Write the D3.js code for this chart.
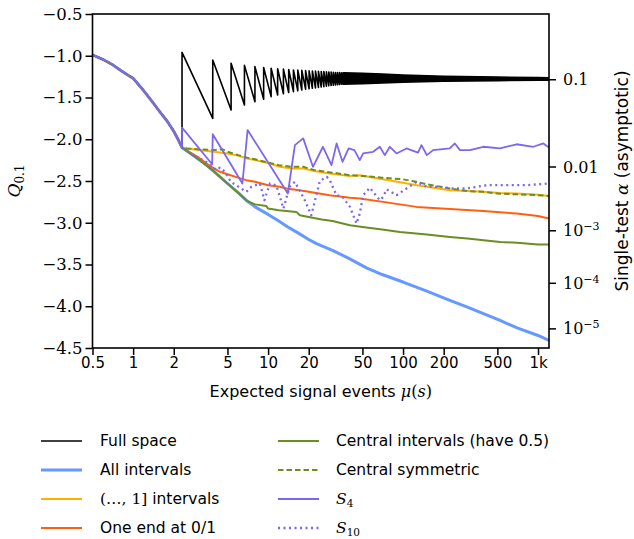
<!DOCTYPE html>
<html>
<head>
<meta charset="utf-8">
<script src="https://cdn.jsdelivr.net/npm/d3@7"></script>
<style>
  body { margin: 0; background: #fff; }
  .sans { font-family: "DejaVu Sans", sans-serif; }
  .serif { font-family: "DejaVu Serif", serif; }
</style>
</head>
<body>
<div id="chart"></div>
<script>
// all methods share this part (mu below ln 10)
const commonMu = [0.5, 0.6, 0.7, 0.8, 0.9, 1.0, 1.2, 1.4, 1.6, 1.8, 2.0, 2.15, 2.303];
const commonQ = [-0.99, -1.045, -1.105, -1.17, -1.225, -1.27, -1.42, -1.56, -1.685, -1.79, -1.905, -2.0, -2.10];

// full space: sawtooth, jumps where the Poisson quantile steps
const fullJumpMu = [2.303, 3.89, 5.32, 6.68, 7.99, 9.27, 10.53, 11.77, 12.99, 14.21, 15.41, 16.6, 17.78, 18.96,
  20.13, 21.29, 22.45, 23.61, 24.76, 25.9, 27.05, 28.18, 29.32, 30.45, 31.58, 32.71, 33.84, 34.96, 36.08];
const fullHighQ = [-0.96, -1.05, -1.09, -1.115, -1.13, -1.14, -1.15, -1.155, -1.16, -1.165, -1.17, -1.172, -1.175, -1.178,
  -1.18, -1.182, -1.184, -1.186, -1.188, -1.19, -1.192, -1.194, -1.196, -1.198, -1.2, -1.201, -1.202, -1.203, -1.204];
const fullLowQ = [-2.10, -1.75, -1.65, -1.59, -1.55, -1.52, -1.49, -1.47, -1.455, -1.44, -1.43, -1.42, -1.41, -1.4,
  -1.395, -1.39, -1.385, -1.38, -1.375, -1.37, -1.365, -1.36, -1.357, -1.354, -1.351, -1.348, -1.345, -1.342, -1.34];
// beyond that the teeth merge into a solid band
const bandMu = [36.08, 50, 70, 100, 200, 500, 1000, 1206];
const bandUpperQ = [-1.204, -1.21, -1.22, -1.23, -1.245, -1.255, -1.262, -1.264];
const bandLowerQ = [-1.34, -1.335, -1.325, -1.318, -1.306, -1.298, -1.293, -1.292];

const allIntervals = [[2.303, -2.10], [2.6, -2.16], [3, -2.23], [3.5, -2.31], [4, -2.39], [5, -2.53], [6, -2.64], [7, -2.74],
  [8, -2.81], [10, -2.90], [12, -2.98], [14, -3.05], [17, -3.13], [20, -3.20], [22.8, -3.25], [30, -3.33], [40, -3.43],
  [53.6, -3.54], [70, -3.62], [100, -3.71], [150, -3.82], [222, -3.93], [300, -4.01], [523, -4.17], [700, -4.26],
  [1000, -4.35], [1206, -4.41]];
const upToOne = [[2.303, -2.10], [2.5, -2.11], [3.3, -2.135], [4, -2.15], [5, -2.17], [5.8, -2.19], [7, -2.23], [8, -2.25],
  [10.3, -2.29], [12.2, -2.33], [15, -2.35], [18.2, -2.35], [22, -2.38], [28.6, -2.41], [40.4, -2.44], [47.8, -2.43],
  [71, -2.48], [100, -2.52], [126, -2.55], [150, -2.57], [222, -2.61], [300, -2.62], [393, -2.63], [523, -2.645],
  [700, -2.65], [1000, -2.665], [1206, -2.68]];
const oneEnd = [[2.303, -2.10], [2.6, -2.15], [3, -2.21], [3.5, -2.29], [3.8, -2.33], [4.4, -2.39], [5, -2.42], [6, -2.46],
  [6.9, -2.49], [8, -2.51], [10, -2.55], [12.2, -2.57], [13.7, -2.59], [17, -2.61], [20, -2.63], [28.6, -2.67],
  [40.4, -2.70], [47.8, -2.71], [71.3, -2.75], [126, -2.81], [222, -2.835], [393, -2.86], [695, -2.89], [1000, -2.92],
  [1206, -2.95]];
const central = [[2.303, -2.10], [3, -2.23], [4, -2.39], [5, -2.53], [6, -2.64], [7, -2.74], [8, -2.78], [9.7, -2.80],
  [10, -2.83], [12, -2.85], [16.2, -2.87], [17.2, -2.91], [20, -2.93], [25, -2.96], [30, -2.98], [40.4, -3.03],
  [50, -3.05], [70, -3.08], [94.7, -3.11], [150, -3.14], [222, -3.17], [300, -3.19], [523, -3.23], [700, -3.24],
  [1000, -3.26], [1206, -3.26]];
const centralSym = [[2.303, -2.10], [2.5, -2.11], [3, -2.12], [4, -2.13], [4.6, -2.12], [5, -2.15], [6, -2.19], [7, -2.22],
  [8, -2.24], [10, -2.28], [12, -2.31], [15, -2.33], [18.2, -2.33], [22, -2.37], [30, -2.40], [40, -2.43], [50, -2.44],
  [70, -2.46], [100, -2.48], [126, -2.51], [150, -2.54], [222, -2.59], [300, -2.62], [393, -2.63], [500, -2.65],
  [700, -2.66], [1000, -2.67], [1206, -2.68]];
const s4 = [[2.303, -2.10], [2.303, -1.86], [3.85, -2.30], [3.89, -1.94], [6.45, -2.53], [7.05, -1.89], [14.0, -2.65],
  [15.8, -2.07], [18.2, -1.99], [21.5, -2.33], [25.5, -2.09], [29.5, -2.31], [32.2, -2.05], [35.6, -2.27], [39.5, -2.11],
  [43.6, -2.13], [47.8, -2.25], [50.6, -2.17], [60, -2.15], [67.3, -2.09], [73.3, -2.19], [79.8, -2.09], [89.5, -2.17],
  [106, -2.11], [129, -2.16], [137, -2.07], [150, -2.19], [167, -2.13], [222, -2.11], [242, -2.05], [264, -2.13],
  [313, -2.13], [393, -2.09], [523, -2.11], [695, -2.06], [923, -2.09], [1096, -2.05], [1206, -2.10]];
const s10 = [[2.303, -2.10], [2.35, -2.11], [2.77, -2.19], [3.3, -2.25], [3.7, -2.30], [4.14, -2.37], [4.4, -2.34],
  [4.8, -2.39], [5.3, -2.51], [5.8, -2.55], [6.9, -2.63], [7.5, -2.57], [8.7, -2.53], [9.4, -2.73], [10.3, -2.53],
  [11.5, -2.55], [13.0, -2.83], [14.4, -2.57], [15.8, -2.51], [17.6, -2.65], [18.7, -2.73], [20.9, -2.91], [24.2, -2.50],
  [27.2, -2.45], [28.7, -2.49], [32.1, -2.67], [35.6, -2.69], [40.4, -2.81], [45.2, -3.01], [47.8, -2.89], [50.6, -2.67],
  [56.7, -2.58], [67.3, -2.73], [71.3, -2.69], [75.5, -2.60], [89.5, -2.67], [106, -2.59], [126, -2.51], [150, -2.57],
  [187, -2.57], [235, -2.59], [296, -2.59], [417, -2.55], [586, -2.55], [824, -2.55], [1206, -2.53]];

const xTicks = [0.5, 1, 2, 5, 10, 20, 50, 100, 200, 500, 1000];
const xTickLabels = ["0.5", "1", "2", "5", "10", "20", "50", "100", "200", "500", "1k"];
const yTicks = [-0.5, -1.0, -1.5, -2.0, -2.5, -3.0, -3.5, -4.0, -4.5];
const alphaTicks = [0.1, 0.01, 1e-3, 1e-4, 1e-5];
const alphaBase = ["0.1", "0.01", "10", "10", "10"];
const alphaExp = ["", "", "−3", "−4", "−5"];

const width = 634, height = 539;
const plotLeft = 92.5, plotRight = 549, plotTop = 14, plotBottom = 348;

// inverse normal cdf (Acklam), maps the alpha ticks onto the Q axis
function probit(p) {
  const a = [-3.969683028665376e+01, 2.209460984245205e+02, -2.759285104469687e+02, 1.383577518672690e+02, -3.066479806614716e+01, 2.506628277459239e+00];
  const b = [-5.447609879822406e+01, 1.615858368580409e+02, -1.556989798598866e+02, 6.680131188771972e+01, -1.328068155288572e+01];
  const c = [-7.784894002430293e-03, -3.223964580411365e-01, -2.400758277161838e+00, -2.549732539343734e+00, 4.374664141464968e+00, 2.938163982698783e+00];
  const d = [7.784695709041462e-03, 3.224671290700398e-01, 2.445134137142996e+00, 3.754408661907416e+00];
  if (p < 0.02425) {
    const q = Math.sqrt(-2 * Math.log(p));
    return (((((c[0] * q + c[1]) * q + c[2]) * q + c[3]) * q + c[4]) * q + c[5]) / ((((d[0] * q + d[1]) * q + d[2]) * q + d[3]) * q + 1);
  }
  const q = p - 0.5, r = q * q;
  return (((((a[0] * r + a[1]) * r + a[2]) * r + a[3]) * r + a[4]) * r + a[5]) * q / (((((b[0] * r + b[1]) * r + b[2]) * r + b[3]) * r + b[4]) * r + 1);
}

const x = d3.scaleLog().domain([0.5, 1206]).range([plotLeft, plotRight]);
const y = d3.scaleLinear().domain([-4.5, -0.5]).range([plotBottom, plotTop]);

const svg = d3.select("#chart").append("svg")
  .attr("width", width).attr("height", height)
  .style("background", "#fff");

svg.append("defs").append("clipPath").attr("id", "plot-clip")
  .append("rect").attr("x", plotLeft).attr("y", plotTop)
  .attr("width", plotRight - plotLeft).attr("height", plotBottom - plotTop);

const commonPts = commonMu.map((m, i) => [m, commonQ[i]]);
const line = d3.line().x(d => x(d[0])).y(d => y(d[1]));

// full space path: common curve, then the teeth
const fullPts = commonPts.slice();
fullJumpMu.forEach((m, i) => {
  fullPts.push([m, fullLowQ[i]]);
  fullPts.push([m, fullHighQ[i]]);
});

const series = [
  { label: "Full space", pts: fullPts, color: "#000", w: 1.6, dash: null },
  { label: "All intervals", pts: commonPts.concat(allIntervals), color: "#6699ff", w: 3, dash: null },
  { label: "(…, 1] intervals", pts: commonPts.concat(upToOne), color: "#ffb000", w: 2, dash: null },
  { label: "One end at 0/1", pts: commonPts.concat(oneEnd), color: "#ff6010", w: 2, dash: null },
  { label: "Central intervals (have 0.5)", pts: commonPts.concat(central), color: "#6b8e23", w: 2, dash: null },
  { label: "Central symmetric", pts: commonPts.concat(centralSym), color: "#6b8e23", w: 2, dash: "5.5,3" },
  { label: "S4", pts: commonPts.concat(s4), color: "#7b68ee", w: 1.8, dash: null },
  { label: "S10", pts: commonPts.concat(s10), color: "#7b68ee", w: 2.3, dash: "2,3.5" }
];

const plot = svg.append("g").attr("clip-path", "url(#plot-clip)");

// dense part of the full-space sawtooth
plot.append("path")
  .datum(bandMu.map((m, i) => [m, bandUpperQ[i], bandLowerQ[i]]))
  .attr("fill", "#000")
  .attr("stroke", "#000")
  .attr("stroke-width", 1.6)
  .attr("d", d3.area().x(d => x(d[0])).y0(d => y(d[2])).y1(d => y(d[1])));

plot.selectAll("path.series")
  .data(series)
  .enter()
  .append("path")
  .attr("class", "series")
  .attr("fill", "none")
  .attr("stroke", d => d.color)
  .attr("stroke-width", d => d.w)
  .attr("stroke-dasharray", d => d.dash)
  .attr("stroke-linejoin", "round")
  .attr("d", d => line(d.pts));

// axes
const fmt = d3.format(".1f");
const yAxis = svg.append("g")
  .attr("transform", `translate(${plotLeft},0)`)
  .call(d3.axisLeft(y).tickValues(yTicks).tickFormat(fmt).tickSize(7).tickPadding(3));
yAxis.selectAll("text").attr("class", "serif").style("font-size", "16.5px").attr("fill", "#000");

const xAxis = svg.append("g")
  .attr("transform", `translate(0,${plotBottom})`)
  .call(d3.axisBottom(x).tickValues(xTicks).tickFormat((d, i) => xTickLabels[i]).tickSize(7).tickPadding(2));
xAxis.selectAll("text").attr("class", "sans").style("font-size", "15px").attr("fill", "#000");

const rAxis = svg.append("g")
  .attr("transform", `translate(${plotRight},0)`)
  .call(d3.axisRight(y).tickValues(alphaTicks.map(probit)).tickFormat("").tickSize(7));

[yAxis, xAxis, rAxis].forEach(g => {
  g.select(".domain").remove();
  g.selectAll(".tick line").attr("stroke", "#000").attr("stroke-width", 1.5);
});

rAxis.selectAll(".tick").each(function(d, i) {
  const t = d3.select(this).append("text")
    .attr("class", "serif")
    .attr("x", 14).attr("dy", "0.35em")
    .attr("fill", "#000")
    .style("font-size", "16px")
    .text(alphaBase[i]);
  if (alphaExp[i]) {
    t.append("tspan").attr("dy", "-0.55em").style("font-size", "11px").text(alphaExp[i]);
  }
});

svg.append("rect")
  .attr("x", plotLeft).attr("y", plotTop)
  .attr("width", plotRight - plotLeft).attr("height", plotBottom - plotTop)
  .attr("fill", "none").attr("stroke", "#000").attr("stroke-width", 1.6);

// axis labels
const xl = svg.append("text").attr("class", "sans")
  .attr("x", (plotLeft + plotRight) / 2).attr("y", 397)
  .attr("text-anchor", "middle").style("font-size", "16px");
xl.append("tspan").text("Expected signal events ");
xl.append("tspan").attr("class", "serif").style("font-style", "italic").text("μ");
xl.append("tspan").attr("class", "serif").text("(");
xl.append("tspan").attr("class", "serif").style("font-style", "italic").text("s");
xl.append("tspan").attr("class", "serif").text(")");

const yl = svg.append("text").attr("class", "serif")
  .attr("transform", `translate(20,${(plotTop + plotBottom) / 2}) rotate(-90)`)
  .attr("text-anchor", "middle").style("font-size", "17px");
yl.append("tspan").style("font-style", "italic").text("Q");
yl.append("tspan").attr("dy", "0.3em").style("font-size", "12px").text("0.1");

const rl = svg.append("text").attr("class", "sans")
  .attr("transform", `translate(628,${(plotTop + plotBottom) / 2}) rotate(-90)`)
  .attr("text-anchor", "middle").style("font-size", "17px");
rl.append("tspan").text("Single-test ");
rl.append("tspan").attr("class", "serif").style("font-style", "italic").text("α");
rl.append("tspan").text(" (asymptotic)");

// legend
const legend = svg.append("g");
series.forEach((s, i) => {
  const col = Math.floor(i / 4), row = i % 4;
  const lx = col === 0 ? 41 : 278;
  const tx = col === 0 ? 100 : 336;
  const ly = 441 + row * 29;
  legend.append("line")
    .attr("x1", lx).attr("x2", lx + 41).attr("y1", ly).attr("y2", ly)
    .attr("stroke", s.color).attr("stroke-width", s.w)
    .attr("stroke-dasharray", s.dash);
  const t = legend.append("text").attr("class", "sans")
    .attr("x", tx).attr("y", ly).attr("dy", "0.35em")
    .style("font-size", "15.5px");
  if (s.label === "(…, 1] intervals") {
    t.append("tspan").attr("class", "serif").text("(…, 1]");
    t.append("tspan").text(" intervals");
  } else if (s.label === "S4" || s.label === "S10") {
    t.append("tspan").attr("class", "serif").style("font-style", "italic").text("S");
    t.append("tspan").attr("class", "serif").attr("dy", "0.2em").style("font-size", "10.5px").text(s.label.slice(1));
  } else {
    t.text(s.label);
  }
});
</script>
</body>
</html>
